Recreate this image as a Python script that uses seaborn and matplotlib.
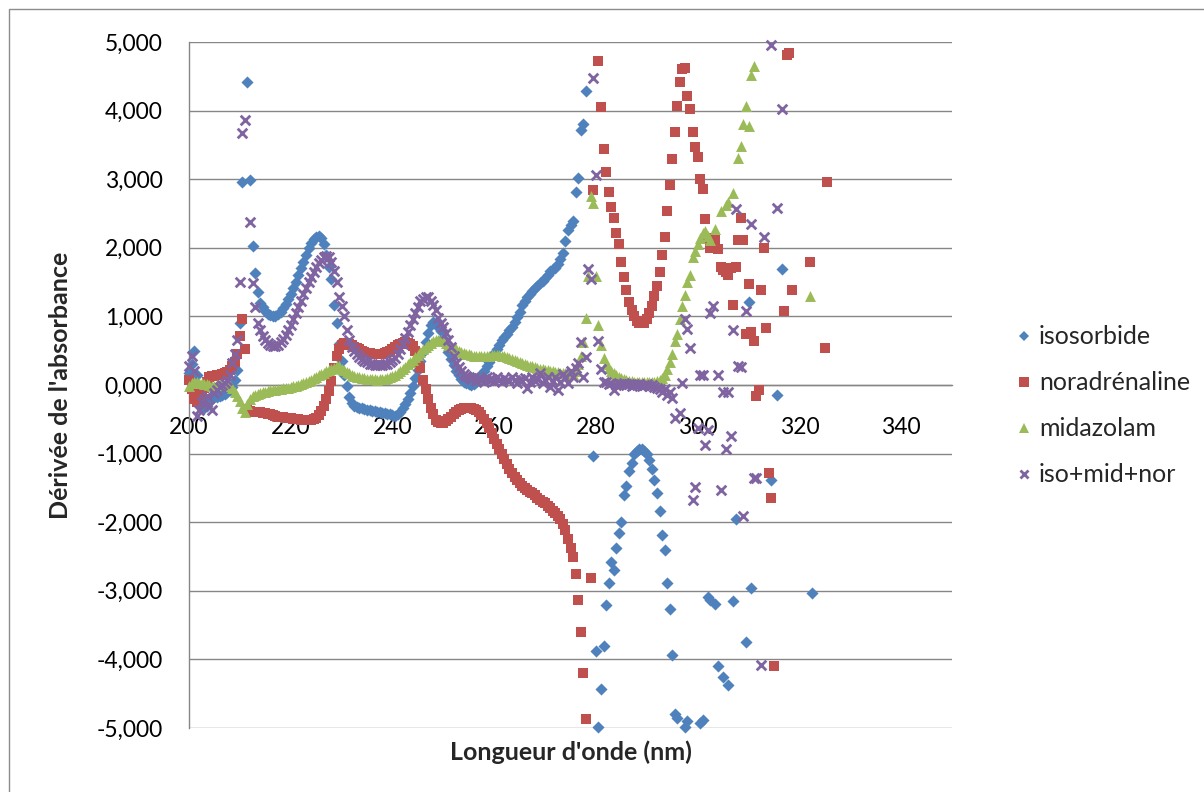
import numpy as np
import pandas as pd
import matplotlib
matplotlib.use('Agg')
import matplotlib.pyplot as plt
from matplotlib.lines import Line2D
from matplotlib.ticker import FuncFormatter
from matplotlib.patches import Rectangle
import seaborn as sns

# ---- data (wavelength in nm, derivative values) ----
iso_nm = [200.0, 200.5, 201.0, 201.5, 202.0, 202.5, 203.0, 203.5, 204.0, 204.5,
          205.0, 205.5, 206.0, 206.5, 207.0, 207.5, 208.0, 208.5, 209.0, 209.5,
          210.0, 210.5, 211.5, 212.0, 212.5, 213.0, 213.5, 214.0, 214.5, 215.0,
          215.5, 216.0, 216.5, 217.0, 217.5, 218.0, 218.5, 219.0, 219.5, 220.0,
          220.5, 221.0, 221.5, 222.0, 222.5, 223.0, 223.5, 224.0, 224.5, 225.0,
          225.5, 226.0, 226.5, 227.0, 227.5, 228.0, 228.5, 229.0, 229.5, 230.0,
          230.5, 231.0, 231.5, 232.0, 232.5, 233.0, 233.5, 234.0, 234.5, 235.0,
          235.5, 236.0, 236.5, 237.0, 237.5, 238.0, 238.5, 239.0, 239.5, 240.0,
          240.5, 241.0, 241.5, 242.0, 242.5, 243.0, 243.5, 244.0, 244.5, 245.0,
          245.5, 246.0, 246.5, 247.0, 247.5, 248.0, 248.5, 249.0, 249.5, 250.0,
          250.5, 251.0, 251.5, 252.0, 252.5, 253.0, 253.5, 254.0, 254.5, 255.0,
          255.5, 256.0, 256.5, 257.0, 257.5, 258.0, 258.5, 259.0, 259.5, 260.0,
          260.5, 261.0, 261.5, 262.0, 262.5, 263.0, 263.5, 264.0, 264.5, 265.0,
          265.5, 266.0, 266.5, 267.0, 267.5, 268.0, 268.5, 269.0, 269.5, 270.0,
          270.5, 271.0, 271.5, 272.0, 272.5, 273.0, 273.5, 274.0, 274.5, 275.0,
          275.5, 276.0, 276.5, 277.0, 277.5, 278.0, 279.5, 280.0, 280.5, 281.0,
          281.5, 282.0, 282.5, 283.0, 283.5, 284.0, 284.5, 285.0, 285.5, 286.0,
          286.5, 287.0, 287.5, 288.0, 288.5, 289.0, 289.5, 290.0, 290.5, 291.0,
          291.5, 292.0, 292.5, 293.0, 293.5, 294.0, 294.5, 295.0, 295.5, 296.0,
          297.5, 298.0, 300.5, 301.0, 302.0, 302.5, 303.5, 304.0, 305.0, 306.0,
          307.0, 307.5, 309.5, 310.0, 310.5, 314.5, 315.5, 316.5, 322.5]
iso_val = [0.18, 0.30, 0.49, 0.15, -0.20, -0.30, -0.33, -0.30, -0.25, -0.21,
           -0.18, -0.17, -0.16, -0.15, -0.13, -0.10, -0.07, -0.03, 0.08, 0.22,
           0.90, 2.96, 4.41, 2.99, 2.02, 1.63, 1.36, 1.20, 1.13, 1.08,
           1.04, 1.02, 1.00, 1.01, 1.03, 1.07, 1.12, 1.18, 1.25, 1.33,
           1.41, 1.50, 1.60, 1.70, 1.80, 1.90, 1.99, 2.07, 2.13, 2.16,
           2.17, 2.14, 2.06, 1.90, 1.72, 1.54, 1.17, 0.91, 0.60, 0.35,
           0.15, -0.02, -0.18, -0.26, -0.30, -0.32, -0.33, -0.34, -0.35, -0.36,
           -0.37, -0.375, -0.38, -0.39, -0.40, -0.405, -0.41, -0.42, -0.43, -0.44,
           -0.455, -0.43, -0.39, -0.34, -0.28, -0.20, -0.11, -0.01, 0.10, 0.22,
           0.35, 0.48, 0.62, 0.76, 0.88, 0.92, 0.90, 0.85, 0.78, 0.68,
           0.58, 0.48, 0.38, 0.29, 0.21, 0.14, 0.09, 0.05, 0.03, 0.015,
           0.005, 0.01, 0.04, 0.09, 0.15, 0.21, 0.27, 0.34, 0.41, 0.47,
           0.53, 0.59, 0.65, 0.70, 0.75, 0.80, 0.85, 0.92, 0.99, 1.07,
           1.16, 1.23, 1.28, 1.32, 1.37, 1.41, 1.45, 1.48, 1.51, 1.56,
           1.61, 1.66, 1.69, 1.71, 1.76, 1.84, 1.93, 2.10, 2.26, 2.33,
           2.39, 2.82, 3.02, 3.72, 3.80, 4.29, -1.03, -3.88, -4.98, -4.43,
           -3.81, -3.20, -2.89, -2.58, -2.70, -2.37, -2.16, -1.99, -1.61, -1.47,
           -1.25, -1.13, -1.01, -0.96, -0.94, -0.94, -0.96, -1.01, -1.09, -1.22,
           -1.38, -1.58, -1.84, -2.19, -2.41, -2.88, -3.26, -3.93, -4.80, -4.85,
           -4.98, -4.90, -4.92, -4.88, -3.09, -3.13, -3.19, -4.10, -4.26, -4.38,
           -3.15, -1.95, -3.74, 1.21, -2.96, -1.38, -0.15, 1.69, -3.03]

nor_nm = [200.0, 200.5, 201.0, 201.5, 202.0, 202.5, 203.0, 203.5, 204.0, 204.5,
          205.0, 205.5, 206.0, 206.5, 207.0, 207.5, 208.0, 208.5, 209.0, 209.5,
          210.0, 210.5, 211.0, 211.5, 212.0, 212.5, 213.0, 213.5, 214.0, 214.5,
          215.0, 215.5, 216.0, 216.5, 217.0, 217.5, 218.0, 218.5, 219.0, 219.5,
          220.0, 220.5, 221.0, 221.5, 222.0, 222.5, 223.0, 223.5, 224.0, 224.5,
          225.0, 225.5, 226.0, 226.5, 227.0, 227.5, 228.0, 228.5, 229.0, 229.5,
          230.0, 230.5, 231.0, 231.5, 232.0, 232.5, 233.0, 233.5, 234.0, 234.5,
          235.0, 235.5, 236.0, 236.5, 237.0, 237.5, 238.0, 238.5, 239.0, 239.5,
          240.0, 240.5, 241.0, 241.5, 242.0, 242.5, 243.0, 243.5, 244.0, 244.5,
          245.0, 245.5, 246.0, 246.5, 247.0, 247.5, 248.0, 248.5, 249.0, 249.5,
          250.0, 250.5, 251.0, 251.5, 252.0, 252.5, 253.0, 253.5, 254.0, 254.5,
          255.0, 255.5, 256.0, 256.5, 257.0, 257.5, 258.0, 258.5, 259.0, 259.5,
          260.0, 260.5, 261.0, 261.5, 262.0, 262.5, 263.0, 263.5, 264.0, 264.5,
          265.0, 265.5, 266.0, 266.5, 267.0, 267.5, 268.0, 268.5, 269.0, 269.5,
          270.0, 270.5, 271.0, 271.5, 272.0, 272.5, 273.0, 273.5, 274.0, 274.5,
          275.0, 275.5, 276.0, 276.5, 277.0, 277.5, 278.0, 279.0, 279.5, 280.5,
          281.0, 281.5, 282.0, 282.5, 283.0, 283.5, 284.0, 284.5, 285.0, 285.5,
          286.0, 286.5, 287.0, 287.5, 288.0, 288.5, 289.0, 289.5, 290.0, 290.5,
          291.0, 291.5, 292.0, 292.5, 293.0, 293.5, 294.0, 294.5, 295.0, 295.5,
          296.0, 296.5, 297.0, 297.5, 298.0, 298.5, 299.0, 299.5, 300.0, 300.5,
          301.0, 301.5, 302.0, 302.5, 303.5, 304.0, 304.5, 305.0, 305.5, 306.0,
          306.5, 307.0, 307.5, 308.0, 308.5, 309.0, 309.5, 310.0, 310.5, 311.0,
          311.5, 312.0, 312.5, 313.0, 313.5, 314.0, 314.5, 315.0, 317.0, 317.5,
          318.0, 318.5, 322.0, 325.0, 325.5]
nor_val = [0.08, -0.06, -0.20, -0.25, -0.20, -0.13, -0.05, 0.05, 0.11, 0.13,
           0.13, 0.14, 0.15, 0.16, 0.17, 0.19, 0.22, 0.27, 0.33, 0.45,
           0.71, 0.955, 0.52, -0.35, -0.38, -0.39, -0.40, -0.40, -0.40, -0.405,
           -0.41, -0.42, -0.43, -0.44, -0.45, -0.46, -0.465, -0.47, -0.475, -0.48,
           -0.485, -0.49, -0.495, -0.50, -0.505, -0.51, -0.51, -0.51, -0.51, -0.50,
           -0.48, -0.44, -0.38, -0.30, -0.20, -0.09, 0.055, 0.25, 0.42, 0.53,
           0.58, 0.61, 0.615, 0.60, 0.58, 0.56, 0.54, 0.52, 0.50, 0.485,
           0.47, 0.46, 0.45, 0.447, 0.445, 0.448, 0.455, 0.466, 0.48, 0.50,
           0.53, 0.555, 0.58, 0.60, 0.615, 0.62, 0.615, 0.60, 0.57, 0.50,
           0.40, 0.25, 0.08, -0.06, -0.20, -0.33, -0.43, -0.51, -0.545, -0.555,
           -0.55, -0.53, -0.50, -0.46, -0.42, -0.39, -0.365, -0.35, -0.34, -0.335,
           -0.335, -0.34, -0.35, -0.37, -0.40, -0.44, -0.49, -0.55, -0.62, -0.70,
           -0.78, -0.86, -0.94, -1.01, -1.08, -1.15, -1.22, -1.28, -1.34, -1.39,
           -1.43, -1.47, -1.50, -1.53, -1.56, -1.58, -1.61, -1.64, -1.67, -1.70,
           -1.72, -1.76, -1.79, -1.83, -1.86, -1.91, -1.96, -2.02, -2.11, -2.25,
           -2.38, -2.50, -2.76, -3.14, -3.60, -4.20, -4.87, -2.81, 2.84, 4.73,
           4.05, 3.44, 3.10, 2.81, 2.59, 2.44, 2.22, 2.05, 1.80, 1.57,
           1.38, 1.21, 1.10, 1.00, 0.93, 0.91, 0.90, 0.91, 0.96, 1.05,
           1.15, 1.30, 1.45, 1.65, 1.89, 2.16, 2.53, 2.91, 3.29, 3.69,
           4.07, 4.42, 4.60, 4.62, 4.21, 4.02, 3.69, 3.47, 3.32, 3.00,
           2.86, 2.42, 2.15, 2.00, 2.11, 1.98, 1.72, 1.68, 1.64, 1.61,
           1.70, 1.16, 1.72, 2.11, 2.44, 2.11, 0.75, 1.47, 0.77, 0.64,
           -0.16, -0.07, 1.39, 2.00, 0.83, -1.29, -1.65, -4.09, 1.08, 4.81,
           4.84, 1.39, 1.80, 0.54, 2.96]

mid_nm = [200.0, 200.5, 201.0, 201.5, 202.0, 202.5, 203.0, 203.5, 204.0, 204.5,
          205.0, 205.5, 206.0, 206.5, 207.0, 207.5, 208.0, 208.5, 209.0, 209.5,
          210.0, 210.5, 211.0, 211.5, 212.0, 212.5, 213.0, 213.5, 214.0, 214.5,
          215.0, 215.5, 216.0, 216.5, 217.0, 217.5, 218.0, 218.5, 219.0, 219.5,
          220.0, 220.5, 221.0, 221.5, 222.0, 222.5, 223.0, 223.5, 224.0, 224.5,
          225.0, 225.5, 226.0, 226.5, 227.0, 227.5, 228.0, 228.5, 229.0, 229.5,
          230.0, 230.5, 231.0, 231.5, 232.0, 232.5, 233.0, 233.5, 234.0, 234.5,
          235.0, 235.5, 236.0, 236.5, 237.0, 237.5, 238.0, 238.5, 239.0, 239.5,
          240.0, 240.5, 241.0, 241.5, 242.0, 242.5, 243.0, 243.5, 244.0, 244.5,
          245.0, 245.5, 246.0, 246.5, 247.0, 247.5, 248.0, 248.5, 249.0, 249.5,
          250.0, 250.5, 251.0, 251.5, 252.0, 252.5, 253.0, 253.5, 254.0, 254.5,
          255.0, 255.5, 256.0, 256.5, 257.0, 257.5, 258.0, 258.5, 259.0, 259.5,
          260.0, 260.5, 261.0, 261.5, 262.0, 262.5, 263.0, 263.5, 264.0, 264.5,
          265.0, 265.5, 266.0, 266.5, 267.0, 267.5, 268.0, 268.5, 269.0, 269.5,
          270.0, 270.5, 271.0, 271.5, 272.0, 272.5, 273.0, 273.5, 274.0, 274.5,
          275.0, 275.5, 276.0, 276.5, 277.0, 277.5, 278.0, 278.5, 279.0, 279.5,
          280.0, 280.5, 281.0, 281.5, 282.0, 282.5, 283.0, 283.5, 284.0, 284.5,
          285.0, 285.5, 286.0, 286.5, 287.0, 287.5, 288.0, 288.5, 289.0, 289.5,
          290.0, 290.5, 291.0, 291.5, 292.0, 292.5, 293.0, 293.5, 294.0, 294.5,
          295.0, 295.5, 296.0, 296.5, 297.0, 297.5, 298.0, 298.5, 299.0, 299.5,
          300.0, 300.5, 301.0, 301.5, 302.0, 302.5, 303.5, 304.5, 305.5, 306.0,
          307.0, 308.0, 308.5, 309.0, 309.5, 310.0, 310.5, 311.0, 322.0]
mid_val = [-0.02, 0.03, 0.05, 0.04, 0.03, 0.03, 0.02, 0.01, 0.00, -0.01,
           -0.01, 0.00, 0.01, 0.02, 0.02, 0.01, -0.01, -0.05, -0.10, -0.16,
           -0.23, -0.33, -0.40, -0.28, -0.21, -0.16, -0.14, -0.125, -0.11, -0.10,
           -0.095, -0.09, -0.08, -0.073, -0.066, -0.06, -0.055, -0.05, -0.045, -0.04,
           -0.03, -0.02, -0.01, 0.00, 0.01, 0.025, 0.04, 0.06, 0.08, 0.10,
           0.12, 0.14, 0.16, 0.18, 0.20, 0.22, 0.24, 0.255, 0.27, 0.27,
           0.24, 0.215, 0.19, 0.17, 0.15, 0.135, 0.12, 0.11, 0.10, 0.095,
           0.09, 0.087, 0.085, 0.082, 0.08, 0.082, 0.085, 0.092, 0.10, 0.115,
           0.13, 0.15, 0.17, 0.20, 0.23, 0.265, 0.30, 0.335, 0.37, 0.405,
           0.44, 0.48, 0.52, 0.555, 0.59, 0.615, 0.64, 0.65, 0.66, 0.65,
           0.64, 0.615, 0.59, 0.565, 0.54, 0.52, 0.50, 0.485, 0.47, 0.457,
           0.445, 0.437, 0.43, 0.425, 0.42, 0.42, 0.42, 0.425, 0.43, 0.435,
           0.44, 0.44, 0.44, 0.43, 0.42, 0.405, 0.39, 0.375, 0.36, 0.345,
           0.33, 0.315, 0.30, 0.29, 0.28, 0.27, 0.26, 0.25, 0.24, 0.23,
           0.22, 0.212, 0.205, 0.197, 0.19, 0.185, 0.18, 0.177, 0.175, 0.17,
           0.165, 0.16, 0.20, 0.30, 0.42, 0.62, 0.98, 1.59, 2.75, 2.66,
           1.59, 0.88, 0.59, 0.39, 0.30, 0.25, 0.20, 0.17, 0.14, 0.12,
           0.10, 0.085, 0.07, 0.06, 0.055, 0.05, 0.045, 0.042, 0.04, 0.04,
           0.04, 0.042, 0.045, 0.05, 0.06, 0.08, 0.10, 0.15, 0.23, 0.33,
           0.45, 0.64, 0.74, 0.96, 1.15, 1.31, 1.50, 1.61, 1.86, 1.95,
           2.05, 2.15, 2.21, 2.24, 2.17, 2.11, 2.28, 2.53, 2.63, 2.67,
           2.80, 3.31, 3.49, 3.80, 4.07, 3.77, 4.52, 4.65, 1.30]

mix_nm = [200.0, 200.5, 201.0, 201.5, 202.0, 202.5, 203.0, 203.5, 204.0, 204.5,
          205.0, 205.5, 206.0, 206.5, 207.0, 207.5, 208.0, 208.5, 209.0, 209.5,
          210.0, 210.5, 211.0, 212.0, 212.5, 213.0, 213.5, 214.0, 214.5, 215.0,
          215.5, 216.0, 216.5, 217.0, 217.5, 218.0, 218.5, 219.0, 219.5, 220.0,
          220.5, 221.0, 221.5, 222.0, 222.5, 223.0, 223.5, 224.0, 224.5, 225.0,
          225.5, 226.0, 226.5, 227.0, 227.5, 228.0, 228.5, 229.0, 229.5, 230.0,
          230.5, 231.0, 231.5, 232.0, 232.5, 233.0, 233.5, 234.0, 234.5, 235.0,
          235.5, 236.0, 236.5, 237.0, 237.5, 238.0, 238.5, 239.0, 239.5, 240.0,
          240.5, 241.0, 241.5, 242.0, 242.5, 243.0, 243.5, 244.0, 244.5, 245.0,
          245.5, 246.0, 246.5, 247.0, 247.5, 248.0, 248.5, 249.0, 249.5, 250.0,
          250.5, 251.0, 251.5, 252.0, 252.5, 253.0, 253.5, 254.0, 254.5, 255.0,
          255.5, 256.0, 256.5, 257.0, 257.5, 258.0, 258.5, 259.0, 259.5, 260.0,
          260.5, 261.0, 261.5, 262.0, 262.5, 263.0, 263.5, 264.0, 264.5, 265.0,
          265.5, 266.0, 266.5, 267.0, 267.5, 268.0, 268.5, 269.0, 269.5, 270.0,
          270.5, 271.0, 271.5, 272.0, 272.5, 273.0, 273.5, 274.0, 274.5, 275.0,
          275.5, 276.0, 276.5, 277.0, 277.5, 278.0, 278.5, 279.0, 279.5, 280.0,
          280.5, 281.0, 281.5, 282.0, 282.5, 283.0, 283.5, 284.0, 284.5, 285.0,
          285.5, 286.0, 286.5, 287.0, 287.5, 288.0, 288.5, 289.0, 289.5, 290.0,
          290.5, 291.0, 291.5, 292.0, 292.5, 293.0, 293.5, 294.0, 294.5, 295.0,
          295.5, 296.5, 297.0, 297.5, 298.0, 298.5, 299.0, 299.5, 300.0, 300.5,
          301.0, 301.5, 302.0, 302.5, 303.0, 304.0, 304.5, 305.0, 305.5, 306.0,
          306.5, 307.0, 307.5, 308.0, 308.5, 309.0, 309.5, 310.5, 311.0, 311.5,
          312.5, 313.0, 314.5, 315.5, 316.5]
mix_val = [0.27, 0.42, 0.20, -0.45, -0.36, -0.25, -0.20, -0.16, -0.30, -0.36,
           -0.12, -0.07, -0.03, 0.00, 0.03, 0.08, 0.15, 0.32, 0.45, 0.65,
           1.50, 3.67, 3.87, 2.38, 1.49, 1.13, 0.90, 0.80, 0.72, 0.66,
           0.61, 0.58, 0.57, 0.57, 0.59, 0.62, 0.67, 0.73, 0.80, 0.88,
           0.96, 1.05, 1.14, 1.23, 1.32, 1.41, 1.50, 1.58, 1.65, 1.72,
           1.78, 1.82, 1.86, 1.88, 1.86, 1.79, 1.66, 1.50, 1.29, 1.15,
           1.00, 0.80, 0.65, 0.56, 0.50, 0.45, 0.41, 0.38, 0.35, 0.33,
           0.31, 0.30, 0.295, 0.29, 0.29, 0.29, 0.30, 0.31, 0.33, 0.36,
           0.40, 0.45, 0.52, 0.60, 0.68, 0.77, 0.87, 0.96, 1.05, 1.14,
           1.22, 1.26, 1.29, 1.29, 1.23, 1.17, 1.10, 0.98, 0.90, 0.84,
           0.76, 0.66, 0.56, 0.43, 0.32, 0.26, 0.20, 0.16, 0.13, 0.11,
           0.09, 0.12, 0.06, 0.10, 0.08, 0.05, 0.11, 0.07, 0.09, 0.06,
           0.11, 0.08, 0.04, 0.10, 0.08, 0.06, 0.11, 0.07, 0.03, 0.09,
           0.06, 0.10, -0.04, 0.04, 0.11, 0.06, 0.09, 0.17, 0.03, 0.08,
           0.12, -0.03, 0.06, 0.11, -0.07, 0.04, 0.16, 0.10, 0.03, 0.20,
           0.12, 0.25, 0.32, 0.62, 0.11, 0.41, 1.69, 1.54, 4.48, 3.06,
           0.64, 0.23, 0.04, 0.05, 0.02, 0.03, -0.07, 0.00, 0.02, 0.01,
           0.03, 0.00, 0.01, -0.02, 0.01, 0.00, 0.02, -0.01, 0.00, 0.01,
           -0.02, 0.00, -0.03, -0.04, -0.06, -0.10, -0.06, -0.15, -0.10, -0.19,
           -0.48, -0.41, 0.03, 0.96, 0.82, 0.54, -1.67, -1.48, -0.62, 0.15,
           0.15, -0.87, -0.65, 1.05, 1.15, 0.15, -1.53, -0.10, -0.93, -0.10,
           -0.75, 0.80, 2.56, 0.27, 0.26, -1.91, 1.08, 2.35, -1.36, -1.36,
           -4.08, 2.16, 4.96, 2.58, 4.02]

series_names = ['isosorbide', 'noradrénaline', 'midazolam', 'iso+mid+nor']
series_colors = ['#4F81BD', '#C0504D', '#9BBB59', '#8064A2']
x_ticks = [200, 220, 240, 260, 280, 300, 320, 340]
y_ticks = [-5, -4, -3, -2, -1, 0, 1, 2, 3, 4, 5]

sns.set_theme(style='white')
plt.rcParams['font.family'] = ['Lato', 'DejaVu Sans']

fig = plt.figure(figsize=(12.04, 7.92), dpi=100)
ax = fig.add_axes([189 / 1204, 1 - 728 / 792, 763 / 1204, 686 / 792])

data = [(iso_nm, iso_val), (nor_nm, nor_val), (mid_nm, mid_val), (mix_nm, mix_val)]
markers = ['D', 's', '^', 'x']
sizes = [38, 52, 62, 48]

for (xs, ys), name, col, mk, sz in zip(data, series_names, series_colors, markers, sizes):
    df = pd.DataFrame({'nm': xs, 'val': ys})
    if mk == 'x':
        sns.scatterplot(data=df, x='nm', y='val', ax=ax, marker=mk, color=col,
                        s=sz, linewidth=2.0, clip_on=False, zorder=3)
    else:
        sns.scatterplot(data=df, x='nm', y='val', ax=ax, marker=mk, color=col,
                        s=sz, linewidth=0, clip_on=False, zorder=3)

ax.set_xlim(200, 350)
ax.set_ylim(-5, 5)
ax.set_xticks(x_ticks)
ax.set_yticks(y_ticks)
ax.yaxis.set_major_formatter(FuncFormatter(lambda v, p: f"{v:.3f}".replace('.', ',')))

grid_col = '#868686'
ax.grid(axis='y', color=grid_col, linewidth=1.0)
ax.grid(axis='x', visible=False)
ax.set_axisbelow(True)
for s in ['top', 'right']:
    ax.spines[s].set_visible(False)
ax.spines['left'].set_color(grid_col)
ax.spines['left'].set_linewidth(1.0)
ax.spines['bottom'].set_position(('data', 0))
ax.spines['bottom'].set_color(grid_col)
ax.spines['bottom'].set_linewidth(1.0)

ax.tick_params(axis='x', length=0, pad=23, labelsize=16.5, colors='black')
ax.tick_params(axis='y', length=0, pad=19, labelsize=16.5, colors='black')

ax.set_xlabel("Longueur d'onde (nm)", fontsize=18, fontweight='bold')
ax.set_ylabel("Dérivée de l'absorbance", fontsize=18, fontweight='bold')
ax.xaxis.set_label_coords(0.5, -0.018)
ax.yaxis.set_label_coords(-0.153, 0.5)

handles = [Line2D([], [], linestyle='none', marker='D', color=series_colors[0], markersize=5.5, markeredgewidth=0),
           Line2D([], [], linestyle='none', marker='s', color=series_colors[1], markersize=6.5, markeredgewidth=0),
           Line2D([], [], linestyle='none', marker='^', color=series_colors[2], markersize=7, markeredgewidth=0),
           Line2D([], [], linestyle='none', marker='x', color=series_colors[3], markersize=6, markeredgewidth=2.0)]
fig.legend(handles, series_names, loc='center left', bbox_to_anchor=(1014 / 1204, 1 - 406 / 792),
           frameon=False, fontsize=18, labelspacing=0.92, handlelength=0.8, handletextpad=0.2,
           borderaxespad=0, borderpad=0)

# chart area border (left and top edges visible in the reference)
fig.patches.append(Rectangle((9 / 1204, -0.1), 1.2, 1 - 9 / 792 + 0.1, transform=fig.transFigure,
                             fill=False, edgecolor='#8c8c8c', linewidth=1.0))

fig.savefig('out.png', dpi=100)
